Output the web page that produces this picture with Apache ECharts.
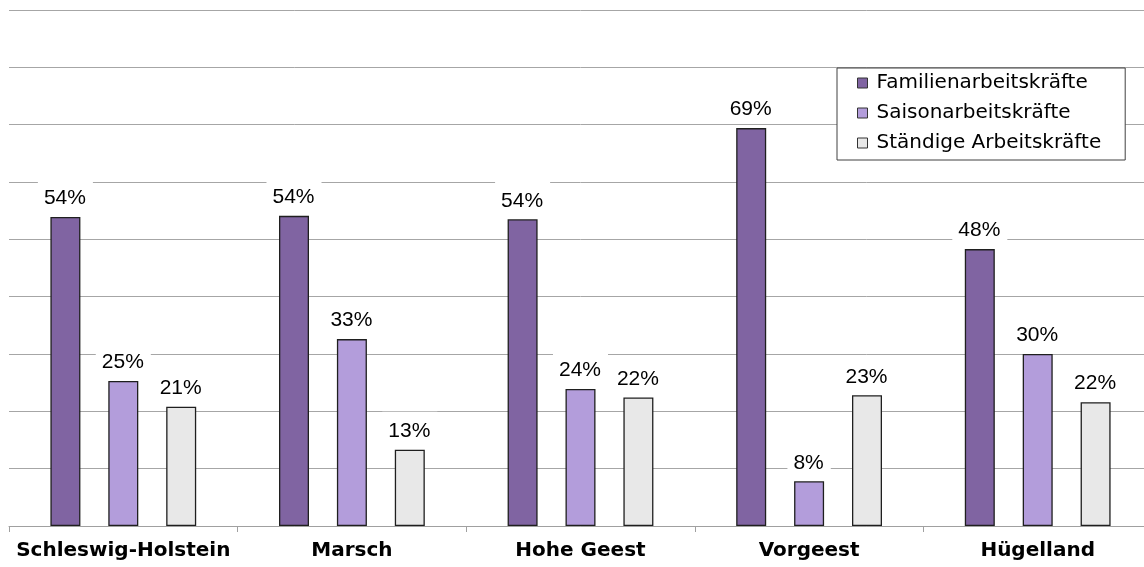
<!DOCTYPE html>
<html>
<head>
<meta charset="utf-8">
<script src="https://cdn.jsdelivr.net/npm/echarts@6/dist/echarts.min.js"></script>
<style>
html,body{margin:0;padding:0;background:#fff;overflow:hidden;width:1144px;height:567px;}
#chart{width:1152px;height:567px;}
</style>
</head>
<body>
<div id="chart"></div>
<script>
const categories = ['Schleswig-Holstein', 'Marsch', 'Hohe Geest', 'Vorgeest', 'Hügelland'];
const seriesNames = ['Familienarbeitskräfte', 'Saisonarbeitskräfte', 'Ständige Arbeitskräfte'];
const familien = [53.9, 54.1, 53.5, 69.4, 48.3];
const saison = [25.3, 32.6, 23.9, 7.8, 30.0];
const staendige = [20.8, 13.3, 22.4, 22.8, 21.6];
const colors = ['#8064A2', '#B39DDB', '#E8E8E8'];

const chart = echarts.init(document.getElementById('chart'), null, {renderer: 'canvas'});

function makeSeries(name, data, color) {
  return {
    name: name,
    type: 'bar',
    data: data,
    barWidth: 30,
    barGap: '93%',
    itemStyle: {color: color, borderColor: '#1f1f1f', borderWidth: 1.3},
    label: {
      show: true,
      position: 'top',
      distance: 6,
      formatter: p => Math.round(p.value) + '%',
      fontFamily: 'Liberation Sans, Arial, sans-serif',
      fontSize: 21,
      color: '#000',
      backgroundColor: '#fff',
      padding: [9, 7, 2, 6]
    }
  };
}

chart.setOption({
  animation: false,
  backgroundColor: '#fff',
  grid: {left: 9, top: 10, right: 0, bottom: 41, containLabel: false},
  legend: {
    orient: 'vertical',
    left: 837,
    top: 68,
    data: seriesNames,
    icon: 'rect',
    itemWidth: 10,
    itemHeight: 10,
    itemGap: 10,
    padding: [5, 24, 7, 20],
    borderColor: '#404040',
    borderWidth: 1,
    backgroundColor: '#fff',
    itemStyle: {borderColor: '#333', borderWidth: 1},
    textStyle: {fontFamily: 'DejaVu Sans, sans-serif', fontSize: 20, color: '#000', padding: [0, 0, 0, 4]}
  },
  xAxis: {
    type: 'category',
    data: categories,
    axisLine: {lineStyle: {color: '#a0a0a0', width: 1}},
    axisTick: {show: true, length: 6, lineStyle: {color: '#a0a0a0'}},
    axisLabel: {interval: 0, fontFamily: 'DejaVu Sans, sans-serif', fontWeight: 'bold', fontSize: 20, color: '#000', margin: 15}
  },
  yAxis: {
    type: 'value',
    min: 0,
    max: 90,
    interval: 10,
    axisLine: {show: false},
    axisTick: {show: false},
    axisLabel: {show: false},
    splitLine: {lineStyle: {color: '#a6a6a6', width: 1}}
  },
  series: [
    makeSeries(seriesNames[0], familien, colors[0]),
    makeSeries(seriesNames[1], saison, colors[1]),
    makeSeries(seriesNames[2], staendige, colors[2])
  ]
});
</script>
</body>
</html>
